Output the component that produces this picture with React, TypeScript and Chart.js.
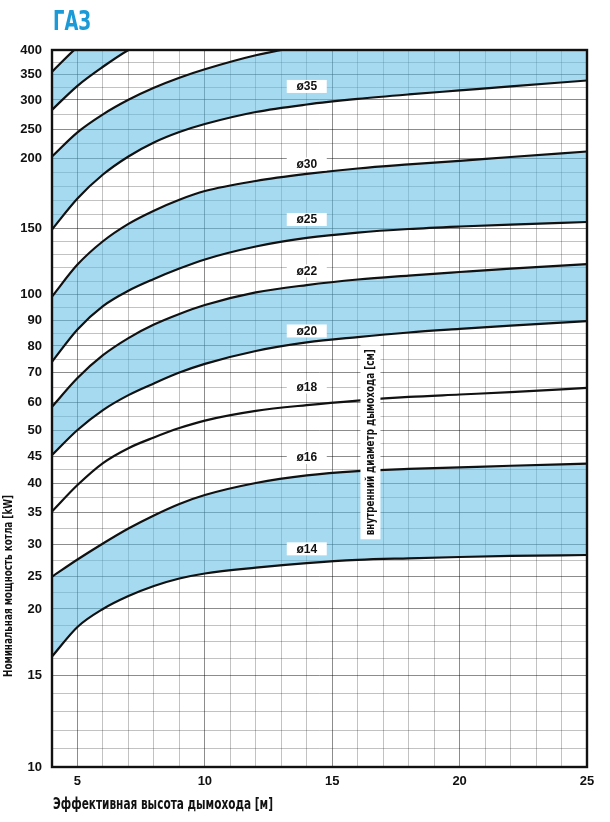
import { useEffect, useRef } from 'react';
import { Chart, registerables, LinearScale } from 'chart.js';

Chart.register(...registerables);

// ---------- data ----------
const CHIMNEY_HEIGHT_M = [4, 5, 6, 7, 8, 9, 10, 12, 14, 16, 18, 20, 22, 25];

const POWER_D14 = [16.4, 18.64, 20.0, 22.0, 23.56, 24.72, 25.5, 26.4, 27.1, 27.6, 27.84, 28.04, 28.2, 28.35];
const POWER_D16 = [25.0, 27.65, 30.13, 32.5, 34.56, 36.48, 38.0, 40.05, 41.5, 42.3, 42.7, 43.0, 43.3, 43.7];
const POWER_D18 = [35.2, 39.7, 43.8, 46.6, 48.6, 50.7, 53.4, 56.9, 59.0, 60.6, 61.8, 62.6, 63.4, 64.8];
const POWER_D20 = [45.3, 50.0, 57.2, 62.4, 66.3, 69.9, 73.2, 78.1, 81.4, 83.5, 85.3, 86.7, 88.0, 89.8];
const POWER_D22 = [58.4, 68.1, 76.5, 83.1, 88.4, 92.5, 95.9, 101.4, 107.0, 111.2, 114.2, 116.9, 119.5, 122.9];
const POWER_D25 = [74.0, 86.5, 95.5, 102.7, 111.6, 119.5, 126.4, 136.2, 142.7, 146.8, 149.5, 151.3, 152.7, 154.5];
const POWER_D30 = [99.1, 122.5, 140.2, 153.2, 162.6, 170.4, 176.6, 183.8, 188.8, 192.7, 195.6, 198.2, 202.2, 211.6];
const POWER_D35 = [149.1, 171.3, 188.4, 203.1, 227.0, 244.9, 258.6, 279.3, 292.2, 302.0, 310.9, 318.8, 326.7, 338.5];
const POWER_D40 = [203, 244.4, 275.3, 300.4, 324.1, 343.9, 360.9, 389.3, 409.5, 425.7, 438.5, 450.6, 460.7, 474.9];
const POWER_D45 = [283, 328, 366, 400, 426, 446];
const POWER_D50 = [356, 406, 445, 475, 500, 520];

// where each diameter label sits: chimney height and power value of the label's centre
const LABEL_HEIGHT_M = 14;
const LABEL_NAMES = ['ø14', 'ø16', 'ø18', 'ø20', 'ø22', 'ø25', 'ø30', 'ø35'];
const LABEL_POWER = [29.3, 44.85, 65.1, 85.9, 117.7, 156.3, 195.9, 326.7];

const X_TICK_LABELS = [5, 10, 15, 20, 25];
const Y_TICK_LABELS = [10, 15, 20, 25, 30, 35, 40, 45, 50, 60, 70, 80, 90, 100, 150, 200, 250, 300, 350, 400];
const Y_GRID_VALUES = [
  10, 11, 12, 13, 14, 15, 16.25, 17.5, 18.75, 20, 22.5, 25, 27.5, 30, 32.5, 35, 37.5, 40, 42.5, 45, 47.5,
  50, 55, 60, 65, 70, 75, 80, 85, 90, 95, 100, 110, 120, 130, 140, 150, 160, 170, 180, 190, 200,
  225, 250, 275, 300, 325, 350, 375, 400,
];

// ---------- the reference's power axis is a hand-drawn non-uniform scale ----------
// fraction of the axis height at which each labelled value sits
const Y_SCALE_FRACTIONS = [0, 0.1283, 0.2204, 0.2654, 0.3106, 0.3547, 0.3957, 0.4328, 0.47, 0.5086, 0.5505, 0.5872, 0.6227, 0.6593, 0.7513, 0.849, 0.8898, 0.9303, 0.9656, 1];

function segIndex(arr: number[], v: number) {
  const n = arr.length;
  if (v <= arr[0]) return 0;
  if (v >= arr[n - 1]) return n - 2;
  let i = 0;
  while (i < n - 2 && v > arr[i + 1]) i++;
  return i;
}
function valueToFraction(v: number) {
  const i = segIndex(Y_TICK_LABELS, v);
  const v0 = Y_TICK_LABELS[i], v1 = Y_TICK_LABELS[i + 1];
  const f0 = Y_SCALE_FRACTIONS[i], f1 = Y_SCALE_FRACTIONS[i + 1];
  return f0 + ((v - v0) / (v1 - v0)) * (f1 - f0);
}
function fractionToValue(f: number) {
  const i = segIndex(Y_SCALE_FRACTIONS, f);
  const v0 = Y_TICK_LABELS[i], v1 = Y_TICK_LABELS[i + 1];
  const f0 = Y_SCALE_FRACTIONS[i], f1 = Y_SCALE_FRACTIONS[i + 1];
  return v0 + ((f - f0) / (f1 - f0)) * (v1 - v0);
}

class PiecewiseScale extends LinearScale {
  static id = 'piecewise';
  static defaults = {};
  buildTicks() {
    return Y_GRID_VALUES.map((value) => ({ value }));
  }
  getPixelForValue(value: any) {
    if (value === null || value === undefined || isNaN(value)) return NaN;
    return (this as any).getPixelForDecimal(valueToFraction(+value));
  }
  getValueForPixel(pixel: number) {
    return fractionToValue((this as any).getDecimalForPixel(pixel));
  }
}
Chart.register(PiecewiseScale as any);

// ---------- styles ----------
const BLUE_FILL = 'rgba(93,188,230,0.55)';
const GRID_DARK = 'rgba(0,0,0,0.45)';
const GRID_LIGHT = 'rgba(0,0,0,0.24)';
const TITLE_BLUE = '#1b9ad7';
const NARROW = '"Liberation Sans Narrow", "DejaVu Sans Condensed", "Liberation Sans", sans-serif';
const REGULAR = '"Liberation Sans", Arial, sans-serif';

const SERIES = [
  { name: 'ø14', values: POWER_D14, shaded: false },
  { name: 'ø16', values: POWER_D16, shaded: true },
  { name: 'ø18', values: POWER_D18, shaded: false },
  { name: 'ø20', values: POWER_D20, shaded: false },
  { name: 'ø22', values: POWER_D22, shaded: true },
  { name: 'ø25', values: POWER_D25, shaded: false },
  { name: 'ø30', values: POWER_D30, shaded: true },
  { name: 'ø35', values: POWER_D35, shaded: false },
  { name: 'ø40', values: POWER_D40, shaded: true },
  { name: 'ø45', values: POWER_D45, shaded: false },
  { name: 'ø50', values: POWER_D50, shaded: true },
];

function drawFitted(ctx: CanvasRenderingContext2D, text: string, x: number, y: number, font: string, width: number, align: CanvasTextAlign, rotate: boolean) {
  ctx.save();
  ctx.font = font;
  const w = ctx.measureText(text).width || 1;
  ctx.translate(x, y);
  if (rotate) ctx.rotate(-Math.PI / 2);
  ctx.scale(width / w, 1);
  ctx.textAlign = align;
  ctx.textBaseline = 'middle';
  ctx.fillText(text, 0, 0);
  ctx.restore();
}

const decorPlugin = {
  id: 'decor',
  afterDatasetsDraw(chart: any) {
    const { ctx, chartArea } = chart;
    const xs = chart.scales.x;
    const ys = chart.scales.y;
    ctx.save();
    // plot frame
    ctx.strokeStyle = '#111';
    ctx.lineWidth = 2.4;
    ctx.strokeRect(chartArea.left, chartArea.top, chartArea.right - chartArea.left, chartArea.bottom - chartArea.top);

    // diameter labels
    LABEL_NAMES.forEach((name, i) => {
      const cx = xs.getPixelForValue(LABEL_HEIGHT_M);
      const cy = ys.getPixelForValue(LABEL_POWER[i]);
      ctx.fillStyle = '#fff';
      ctx.fillRect(cx - 20, cy - 6.5, 40, 13);
      ctx.fillStyle = '#111';
      ctx.font = `bold 12px ${REGULAR}`;
      ctx.textAlign = 'center';
      ctx.textBaseline = 'middle';
      ctx.fillText(name, cx, cy + 0.5);
    });

    // vertical annotation
    const ax = xs.getPixelForValue(16.5);
    const ay = ys.getPixelForValue(47.7);
    ctx.fillStyle = '#fff';
    ctx.fillRect(ax - 10, ay - 97, 20, 194);
    ctx.fillStyle = '#111';
    drawFitted(ctx, 'внутренний диаметр дымохода [см]', ax, ay, `bold 13px ${NARROW}`, 186, 'center', true);

    // titles
    ctx.fillStyle = TITLE_BLUE;
    drawFitted(ctx, 'ГАЗ', 53, 23, `bold 27px ${NARROW}`, 38, 'left', false);
    ctx.fillStyle = '#111';
    drawFitted(ctx, 'Номинальная мощность котла [kW]', 8.5, 586, `bold 13px ${NARROW}`, 182, 'center', true);
    drawFitted(ctx, 'Эффективная высота дымохода [м]', 53, 805, `bold 15px ${NARROW}`, 220, 'left', false);
    ctx.restore();
  },
};

export default function App() {
  const ref = useRef<HTMLCanvasElement>(null);
  useEffect(() => {
    if (!ref.current) return;
    const datasets = SERIES.map((s) => ({
      label: s.name,
      data: s.values.map((v, i) => ({ x: CHIMNEY_HEIGHT_M[i], y: v })),
      borderColor: '#111',
      borderWidth: 2.2,
      pointRadius: 0,
      cubicInterpolationMode: 'monotone' as const,
      backgroundColor: BLUE_FILL,
      fill: s.shaded ? { target: '-1' } : false,
    }));
    const chart = new Chart(ref.current, {
      type: 'line',
      data: { datasets } as any,
      options: {
        animation: false,
        responsive: true,
        maintainAspectRatio: false,
        events: [],
        layout: { padding: { top: 50, right: 23, bottom: 0, left: 0 } },
        plugins: {
          legend: { display: false },
          tooltip: { enabled: false },
          title: { display: false },
          filler: { propagate: false, drawTime: 'beforeDatasetsDraw' },
        } as any,
        scales: {
          x: {
            type: 'linear',
            min: 4,
            max: 25,
            afterFit: (s: any) => { s.height = 55; },
            border: { display: false },
            grid: {
              drawTicks: false,
              lineWidth: 1,
              color: (c: any) => (c.tick && c.tick.value % 5 === 0 ? GRID_DARK : GRID_LIGHT),
            },
            ticks: {
              stepSize: 1,
              autoSkip: false,
              maxRotation: 0,
              padding: 7,
              color: '#111',
              font: { family: REGULAR, weight: 'bold', size: 13 },
              callback: (v: any) => (X_TICK_LABELS.includes(+v) ? String(v) : ''),
            },
          },
          y: {
            type: 'piecewise',
            min: 10,
            max: 400,
            afterFit: (s: any) => { s.width = 52; },
            border: { display: false },
            grid: {
              drawTicks: false,
              lineWidth: 1,
              color: (c: any) => (c.tick && Y_TICK_LABELS.includes(c.tick.value) ? GRID_DARK : GRID_LIGHT),
            },
            ticks: {
              autoSkip: false,
              padding: 10,
              color: '#111',
              font: { family: REGULAR, weight: 'bold', size: 13 },
              callback: (v: any) => (Y_TICK_LABELS.includes(+v) ? String(v) : ''),
            },
          },
        } as any,
      },
      plugins: [decorPlugin],
    });
    return () => chart.destroy();
  }, []);
  return (
    <div style={{ position: 'absolute', left: 0, top: 0, width: 610, height: 822 }}>
      <canvas ref={ref} />
    </div>
  );
}
